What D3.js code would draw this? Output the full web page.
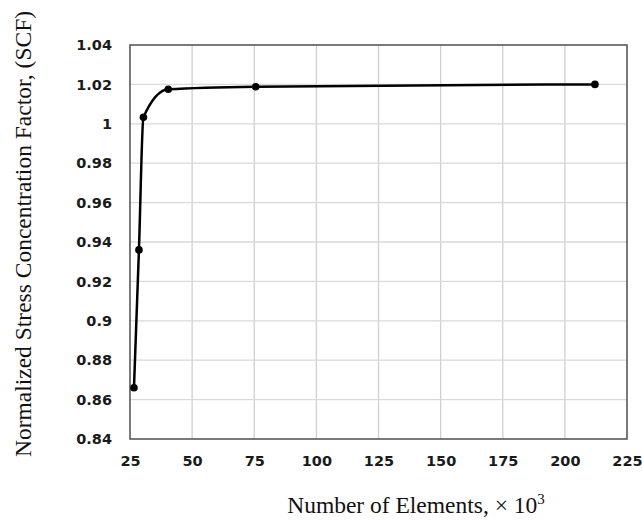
<!DOCTYPE html>
<html>
<head>
<meta charset="utf-8">
<script src="https://cdn.jsdelivr.net/npm/d3@7"></script>
<style>
  body { margin: 0; background: #fff; }
  svg { display: block; }
</style>
</head>
<body>
<svg id="s"></svg>
<script>
// values
var elements = [26.6, 28.6, 30.4, 40.4, 75.6, 212.1];   // x 10^3
var scf = [0.866, 0.936, 1.0033, 1.0175, 1.0188, 1.0200];
var xTicks = [25, 50, 75, 100, 125, 150, 175, 200, 225];
var yTicks = [0.84, 0.86, 0.88, 0.9, 0.92, 0.94, 0.96, 0.98, 1, 1.02, 1.04];

var W = 642, H = 522;
var m = {left: 130, right: 15, top: 45, bottom: 83};

var svg = d3.select('#s').attr('width', W).attr('height', H);

var x = d3.scaleLinear().domain([25, 225]).range([m.left, W - m.right]);
var y = d3.scaleLinear().domain([0.84, 1.04]).range([H - m.bottom, m.top]);

// grid
svg.append('g')
  .selectAll('line.gx')
  .data(xTicks.slice(1, -1))
  .enter().append('line')
  .attr('x1', function(d){ return x(d); })
  .attr('x2', function(d){ return x(d); })
  .attr('y1', y(0.84)).attr('y2', y(1.04))
  .attr('stroke', '#d0d0d0').attr('stroke-width', 1.3);

svg.append('g')
  .selectAll('line.gy')
  .data(yTicks.slice(1, -1))
  .enter().append('line')
  .attr('y1', function(d){ return y(d); })
  .attr('y2', function(d){ return y(d); })
  .attr('x1', x(25)).attr('x2', x(225))
  .attr('stroke', '#d9d9d9').attr('stroke-width', 1.3);

// axes (labels only, frame drawn separately)
var xAxis = svg.append('g')
  .attr('transform', 'translate(0,' + y(0.84) + ')')
  .call(d3.axisBottom(x).tickValues(xTicks).tickSize(0).tickPadding(17));
var yAxis = svg.append('g')
  .attr('transform', 'translate(' + (x(25) - 18) + ',0)')
  .call(d3.axisLeft(y).tickValues(yTicks).tickSize(0).tickPadding(0)
    .tickFormat(function(d){ return d3.format('')(+d.toFixed(2)); }));

[xAxis, yAxis].forEach(function(a){
  a.select('.domain').remove();
  a.selectAll('text')
    .attr('font-family', 'DejaVu Sans, Verdana, sans-serif')
    .attr('font-weight', 'bold')
    .attr('font-size', 14.5)
    .attr('fill', '#1a1a1a');
});

// frame
svg.append('rect')
  .attr('x', x(25)).attr('y', y(1.04))
  .attr('width', x(225) - x(25))
  .attr('height', y(0.84) - y(1.04))
  .attr('fill', 'none')
  .attr('stroke', '#595959').attr('stroke-width', 1.6);

var pts = elements.map(function(d, i){ return [d, scf[i]]; });

var line = d3.line()
  .x(function(d){ return x(d[0]); })
  .y(function(d){ return y(d[1]); })
  .curve(d3.curveMonotoneX);

svg.append('path')
  .datum(pts)
  .attr('d', line)
  .attr('fill', 'none')
  .attr('stroke', '#000')
  .attr('stroke-width', 2.5);

svg.selectAll('circle')
  .data(pts)
  .enter().append('circle')
  .attr('cx', function(d){ return x(d[0]); })
  .attr('cy', function(d){ return y(d[1]); })
  .attr('r', 3.8)
  .attr('fill', '#000');

// titles
var xt = svg.append('text')
  .attr('x', 416).attr('y', 513)
  .attr('text-anchor', 'middle')
  .attr('font-family', 'Liberation Serif, Times New Roman, serif')
  .attr('font-size', 23.5)
  .attr('fill', '#111')
  .text('Number of Elements, \u00d7 10');
xt.append('tspan')
  .attr('dy', -9).attr('font-size', 15)
  .text('3');

svg.append('text')
  .attr('transform', 'translate(31,234) rotate(-90)')
  .attr('text-anchor', 'middle')
  .attr('font-family', 'Liberation Serif, Times New Roman, serif')
  .attr('font-size', 23.5)
  .attr('fill', '#111')
  .text('Normalized Stress Concentration Factor, (SCF)');
</script>
</body>
</html>
